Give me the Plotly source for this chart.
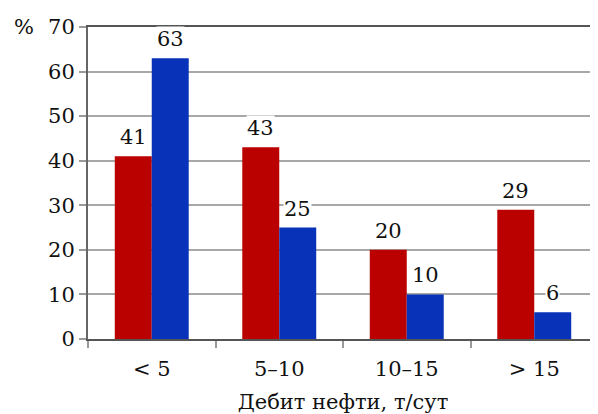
import plotly.graph_objects as go

categories = ["< 5", "5–10", "10–15", "> 15"]
series_red = [41, 43, 20, 29]
series_blue = [63, 25, 10, 6]
y_ticks = [0, 10, 20, 30, 40, 50, 60, 70]

font_family = "DejaVu Serif"
fs = 21
red = "#BB0000"
blue = "#0833B8"

fig = go.Figure()
fig.add_trace(go.Bar(x=categories, y=series_red, marker_color=red,
                     marker_line_width=0))
fig.add_trace(go.Bar(x=categories, y=series_blue, marker_color=blue,
                     marker_line_width=0))

for vals, dx in ((series_red, -18.5), (series_blue, 18.5)):
    for c, v in zip(categories, vals):
        fig.add_annotation(x=c, y=v, text=str(v), showarrow=False,
                           xshift=dx, yshift=6, yanchor="bottom",
                           bgcolor="white", borderpad=0,
                           font=dict(size=fs, family=font_family, color="#111"))

fig.update_layout(
    width=590, height=406,
    margin=dict(l=80, r=0, t=19, b=75),
    barmode="group", bargap=0.42, bargroupgap=0,
    showlegend=False,
    plot_bgcolor="white", paper_bgcolor="white",
    font=dict(family=font_family, size=fs, color="#111"),
)
fig.update_xaxes(
    type="category", tickson="boundaries", ticks="outside", ticklen=7,
    tickcolor="#999", tickwidth=1.5, ticklabelstandoff=10, automargin=False,
    showline=True, linecolor="#555", linewidth=2, mirror=True,
    showgrid=False,
    tickfont=dict(size=fs, family=font_family),
    title=dict(text="Дебит нефти, т/сут", font=dict(size=fs, family=font_family), standoff=14),
)
fig.update_yaxes(
    range=[0, 70], tickvals=y_ticks, ticks="outside", ticklen=7,
    tickcolor="#999", tickwidth=1.5, automargin=False,
    showline=True, linecolor="#666", linewidth=2,
    showgrid=True, gridcolor="#a8a8a8", gridwidth=1.5,
    zeroline=False,
    tickfont=dict(size=fs, family=font_family),
)
fig.add_annotation(text="%", xref="paper", yref="paper", x=0, y=1,
                   xshift=-64, xanchor="center", yanchor="middle", showarrow=False,
                   font=dict(size=fs, family=font_family, color="#111"))

fig.write_html("out.html")
